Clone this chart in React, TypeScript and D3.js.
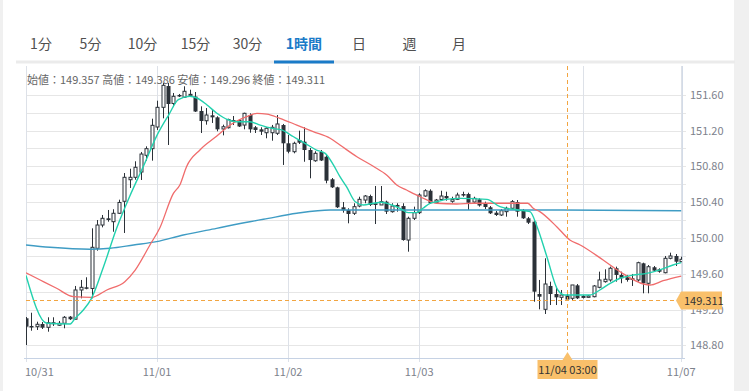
import React from 'react'
import * as d3 from 'd3'

// hourly candles, 10/31 00:00 .. 11/07 00:00 (weekend gap after 11/04 05:00)
const opens = [
  149.102, 149.016, 149.008, 149.038, 149.001, 149.046, 149.024, 149.046, 149.12, 149.091,
  149.418, 149.448, 149.435, 149.884, 150.144, 150.219, 150.181, 150.275, 150.409, 150.65,
  150.677, 150.736, 150.923, 150.997, 151.239, 151.459, 151.697, 151.502, 151.597, 151.571,
  151.593, 151.58, 151.418, 151.309, 151.37, 151.347, 151.217, 151.231, 151.317, 151.317,
  151.261, 151.373, 151.236, 151.213, 151.175, 151.175, 151.169, 151.261, 151.057, 150.963,
  151.094, 151.075, 150.982, 150.862, 150.96, 150.907, 150.655, 150.565, 150.342, 150.312,
  150.275, 150.356, 150.423, 150.468, 150.387, 150.368, 150.405, 150.293, 150.368, 150.356,
  149.976, 150.219, 150.282, 150.468, 150.527, 150.393, 150.429, 150.468, 150.409, 150.431,
  150.49, 150.49, 150.401, 150.431, 150.387, 150.342, 150.282, 150.256, 150.293, 150.331,
  150.401, 150.304, 150.219, 150.181, 149.373, 149.202, 149.463, 149.373, 149.336, 149.357,
  149.325, 149.47, 149.34, 149.336, 149.343, 149.448, 149.511, 149.53, 149.661, 149.586,
  149.56, 149.549, 149.53, 149.716, 149.493, 149.672, 149.649, 149.611, 149.772, 149.798,
  149.734
]
const highs = [
  149.116, 149.164, 149.064, 149.06, 149.113, 149.113, 149.072, 149.127, 149.127, 149.463,
  149.53, 149.56, 150.107, 150.2, 150.256, 150.312, 150.32, 150.427, 150.725, 150.773,
  150.856, 150.96, 151.023, 151.332, 151.533, 151.731, 151.731, 151.619, 151.608, 151.694,
  151.656, 151.63, 151.47, 151.451, 151.432, 151.359, 151.265, 151.332, 151.362, 151.325,
  151.399, 151.392, 151.25, 151.236, 151.236, 151.262, 151.373, 151.273, 151.15, 151.075,
  151.198, 151.236, 151.004, 150.968, 150.982, 150.926, 150.669, 150.572, 150.401, 150.331,
  150.387, 150.46, 150.479, 150.483, 150.58, 150.58, 150.416, 150.387, 150.387, 150.387,
  150.237, 150.349, 150.498, 150.543, 150.543, 150.435, 150.527, 150.516, 150.46, 150.505,
  150.516, 150.505, 150.46, 150.442, 150.405, 150.356, 150.301, 150.323, 150.349, 150.423,
  150.423, 150.323, 150.234, 150.2, 149.53, 149.772, 149.511, 149.455, 149.418, 149.386,
  149.474, 149.485, 149.362, 149.362, 149.474, 149.623, 149.649, 149.679, 149.679, 149.623,
  149.586, 149.597, 149.734, 149.723, 149.697, 149.686, 149.66, 149.798, 149.835, 149.82,
  149.79
]
const lows = [
  148.803, 148.963, 148.971, 148.982, 148.952, 149.016, 149.016, 148.99, 149.083, 149.091,
  149.325, 149.426, 149.325, 149.857, 150.118, 150.181, 150.069, 150.267, 150.055, 150.558,
  150.65, 150.647, 150.863, 150.863, 151.206, 151.336, 151.038, 151.462, 151.574, 151.563,
  151.591, 151.407, 151.172, 151.265, 151.284, 151.191, 151.146, 151.222, 151.261, 151.239,
  151.213, 151.175, 151.172, 151.15, 151.113, 151.086, 151.15, 150.815, 150.945, 150.945,
  151.049, 150.851, 150.666, 150.851, 150.859, 150.61, 150.558, 150.334, 150.282, 150.163,
  150.256, 150.342, 150.387, 150.356, 150.155, 150.368, 150.267, 150.282, 150.293, 149.969,
  149.846, 150.2, 150.267, 150.46, 150.379, 150.379, 150.416, 150.416, 150.393, 150.423,
  150.46, 150.312, 150.393, 150.349, 150.323, 150.267, 150.245, 150.245, 150.237, 150.32,
  150.237, 150.212, 150.155, 149.287, 149.202, 149.15, 149.25, 149.25, 149.25, 149.296,
  149.306, 149.317, 149.323, 149.334, 149.336, 149.437, 149.5, 149.511, 149.511, 149.493,
  149.511, 149.463, 149.511, 149.381, 149.381, 149.619, 149.611, 149.604, 149.761, 149.686,
  149.734
]
const closes = [
  149.008, 149.001, 149.035, 148.997, 149.052, 149.052, 149.046, 149.113, 149.091, 149.418,
  149.448, 149.432, 149.895, 150.144, 150.219, 150.2, 150.275, 150.396, 150.677, 150.677,
  150.789, 150.937, 150.997, 151.258, 151.459, 151.705, 151.496, 151.582, 151.58, 151.638,
  151.604, 151.412, 151.306, 151.373, 151.347, 151.213, 151.242, 151.323, 151.295, 151.245,
  151.392, 151.213, 151.206, 151.187, 151.225, 151.236, 151.273, 151.057, 150.963, 151.057,
  151.064, 150.982, 150.87, 150.945, 150.865, 150.639, 150.565, 150.342, 150.308, 150.267,
  150.349, 150.431, 150.468, 150.368, 150.368, 150.405, 150.293, 150.356, 150.349, 149.976,
  150.219, 150.282, 150.479, 150.527, 150.387, 150.423, 150.468, 150.442, 150.431, 150.479,
  150.476, 150.393, 150.442, 150.362, 150.345, 150.275, 150.256, 150.304, 150.331, 150.405,
  150.293, 150.219, 150.17, 149.399, 149.343, 149.485, 149.373, 149.336, 149.362, 149.311,
  149.474, 149.325, 149.346, 149.351, 149.463, 149.53, 149.538, 149.661, 149.586, 149.549,
  149.53, 149.53, 149.723, 149.493, 149.678, 149.634, 149.622, 149.772, 149.798, 149.734,
  149.761
]

// moving averages as [candle index, price]
const maShort: [number, number][] = [
  [0, 149.58], [3.8, 149.046], [8.1, 149.038], [9, 149.102], [10.5, 149.195], [12, 149.325],
  [14.2, 149.678], [16.6, 150.107], [19, 150.465], [21.5, 150.8], [23.9, 151.135],
  [26.1, 151.37], [27.9, 151.544], [30, 151.582], [31.3, 151.563], [33.1, 151.488],
  [34.9, 151.396], [37, 151.32], [38.6, 151.298], [41, 151.298], [42.9, 151.26],
  [45, 151.225], [46.8, 151.206], [49, 151.13], [51.1, 151.057], [53.2, 150.982],
  [54.8, 150.945], [56.3, 150.815], [57.5, 150.684], [58.7, 150.572], [60.3, 150.404],
  [61.8, 150.368], [63.6, 150.387], [65.1, 150.398], [67, 150.368], [68.5, 150.331],
  [70, 150.282], [71.5, 150.282], [72.7, 150.331], [74, 150.387], [75.2, 150.404],
  [77, 150.431], [79.5, 150.442], [84.4, 150.431], [86.8, 150.349], [90.1, 150.312],
  [92.3, 150.293], [93.6, 150.125], [95.4, 149.79], [97.4, 149.418], [98.7, 149.362],
  [103.3, 149.362], [105.1, 149.418], [107, 149.493], [108.8, 149.549], [111.2, 149.585],
  [113.7, 149.604], [116.1, 149.642], [118.5, 149.697], [120, 149.723]
]
const maMid: [number, number][] = [
  [0, 149.611], [2.6, 149.53], [5.6, 149.437], [8.7, 149.343], [12, 149.336],
  [14.8, 149.418], [18.1, 149.511], [20, 149.641], [22.7, 149.921], [24.5, 150.111],
  [27, 150.498], [28.2, 150.594], [29.4, 150.796], [31.9, 150.985], [34.9, 151.135],
  [37.4, 151.261], [40.4, 151.354], [42.3, 151.392], [44.1, 151.384], [46.5, 151.336],
  [49.6, 151.261], [52.6, 151.187], [55.7, 151.113], [57.5, 151.038], [60.6, 150.907],
  [63.6, 150.8], [66.1, 150.7], [67.9, 150.591], [69.7, 150.535], [72.2, 150.46],
  [75.2, 150.387], [78.9, 150.379], [81.9, 150.387], [91.9, 150.387], [92.9, 150.331],
  [94.1, 150.293], [97.2, 150.125], [99.6, 149.977], [101.5, 149.921], [105.7, 149.753],
  [108.8, 149.622], [113.1, 149.485], [114.3, 149.474], [116.7, 149.522], [120, 149.574]
]
const maLong: [number, number][] = [
  [0, 149.921], [4.4, 149.895], [11.7, 149.873], [15.4, 149.884], [19.7, 149.921],
  [23.9, 149.958], [28.8, 150.032], [34.9, 150.107], [41, 150.181], [43.5, 150.208],
  [49.6, 150.275], [55.7, 150.312], [61.8, 150.312], [83.2, 150.312], [97.8, 150.312],
  [120, 150.304]
]

// 11/06 keeps its grid line, its label sits under the time tooltip
const dayLabels = ['10/31', '11/01', '11/02', '11/03', '', '11/07']
const dayIndex = [0, 24, 48, 72, 102, 120]
const priceTicks = [148.8, 149.2, 149.6, 150.0, 150.4, 150.8, 151.2, 151.6]
const gridPrices = [148.8, 149.0, 149.2, 149.4, 149.6, 149.8, 150.0, 150.2, 150.4, 150.6, 150.8, 151.0, 151.2, 151.4, 151.6]

const tabs = ['1分', '5分', '10分', '15分', '30分', '1時間', '日', '週', '月']
const activeTab = '1時間'
const cursorIndex = 99
const cursorTime = '11/04 03:00'

const W = 749
const H = 391
const plot = { left: 26, right: 682, top: 66, bottom: 358 }
const tabCenters = [41, 90.5, 142.5, 195.5, 247.5, 304, 359, 409.5, 459]

const DARK = '#2b3138'
const ORANGE = '#f2a541'
const FONT = '"Noto Sans CJK JP", "Noto Sans", sans-serif'

export default function App() {
  const x = d3.scaleLinear().domain([0, 120]).range([26, 681.2])
  const y = d3.scaleLinear().domain([148.8, 151.6]).range([345.3, 94.7])

  const line = d3
    .line<[number, number]>()
    .x(d => x(d[0]))
    .y(d => y(d[1]))
    .curve(d3.curveMonotoneX)

  const cx = Math.round(x(cursorIndex)) + 0.5
  const cy = Math.round(y(closes[cursorIndex])) + 0.5
  const header =
    '始値：' + opens[cursorIndex].toFixed(3) +
    ' 高値：' + highs[cursorIndex].toFixed(3) +
    ' 安値：' + lows[cursorIndex].toFixed(3) +
    ' 終値：' + closes[cursorIndex].toFixed(3)

  const activeI = tabs.indexOf(activeTab)

  return (
    <svg
      width={W}
      height={H}
      style={{ position: 'absolute', left: 0, top: 0, fontFamily: FONT }}
    >
      <rect width={W} height={H} fill="#f0f0f0" />
      <rect x={3} y={0} width={731} height={H} fill="#fff" />

      {/* tabs */}
      {tabs.map((t, i) => (
        <text
          key={t}
          x={tabCenters[i]}
          y={49}
          textAnchor="middle"
          fontSize={14}
          fontWeight={i === activeI ? 'bold' : 'normal'}
          fill={i === activeI ? '#1a7bc8' : '#505050'}
        >
          {t}
        </text>
      ))}
      <rect x={16} y={60.5} width={719} height={3} fill="#ebebeb" />
      <rect x={tabCenters[activeI] - 30} y={60.5} width={60} height={3} fill="#1a7bc8" />

      <defs>
        <clipPath id="plotClip">
          <rect x={plot.left} y={plot.top} width={plot.right - plot.left} height={plot.bottom - plot.top} />
        </clipPath>
      </defs>

      {/* grid */}
      {gridPrices.map(p => (
        <line
          key={p}
          x1={plot.left}
          x2={plot.right + 4}
          y1={Math.round(y(p)) + 0.5}
          y2={Math.round(y(p)) + 0.5}
          stroke="#e6e6e6"
        />
      ))}
      {dayIndex.map(i => (
        <line
          key={i}
          x1={Math.round(x(i)) + 0.5}
          x2={Math.round(x(i)) + 0.5}
          y1={plot.top}
          y2={plot.bottom + 4}
          stroke="#dde1e8"
        />
      ))}
      <line x1={plot.right + 0.5} x2={plot.right + 0.5} y1={plot.top} y2={plot.bottom} stroke="#d3dbe7" />
      <line x1={plot.left - 2} x2={plot.right + 3} y1={plot.bottom + 0.5} y2={plot.bottom + 0.5} stroke="#c6d2e4" />

      {/* candles */}
      <g clipPath="url(#plotClip)">
        {opens.map((o, i) => {
          const c = closes[i]
          const xi = Math.round(x(i)) + 0.5
          const up = c >= o
          const top = y(Math.max(o, c))
          const bot = y(Math.min(o, c))
          return (
            <g key={i}>
              <line x1={xi} x2={xi} y1={y(highs[i])} y2={y(lows[i])} stroke={DARK} />
              {up ? (
                <rect
                  x={xi - 1.5}
                  y={top}
                  width={3}
                  height={Math.max(1, bot - top)}
                  fill="#fff"
                  stroke={DARK}
                />
              ) : (
                <rect
                  x={xi - 2}
                  y={top}
                  width={4}
                  height={Math.max(1.5, bot - top)}
                  fill={DARK}
                />
              )}
            </g>
          )
        })}
        <path d={line(maLong) || ''} fill="none" stroke="#3f9cc4" strokeWidth={1.4} />
        <path d={line(maMid) || ''} fill="none" stroke="#f06c6c" strokeWidth={1.3} />
        <path d={line(maShort) || ''} fill="none" stroke="#22d1ae" strokeWidth={1.4} />
      </g>

      {/* crosshair */}
      <line x1={cx} x2={cx} y1={plot.top} y2={plot.bottom} stroke={ORANGE} strokeDasharray="4,3" />
      <line x1={plot.left} x2={676} y1={cy} y2={cy} stroke={ORANGE} strokeDasharray="4,3" />

      {/* header */}
      <text x={27} y={84} fontSize={11} fill="#666">
        {header}
      </text>

      {/* y axis */}
      {priceTicks.map(p => (
        <text key={p} x={690} y={y(p) + 4} fontSize={11} fill="#7d828c">
          {p.toFixed(2)}
        </text>
      ))}
      <path
        d={`M676,${cy} L681,${cy - 9} L722,${cy - 9} L722,${cy + 9} L681,${cy + 9} Z`}
        fill="#f9c06b"
      />
      <text x={684} y={cy + 4} fontSize={11} fill="#333">
        {closes[cursorIndex].toFixed(3)}
      </text>

      {/* x axis */}
      {dayIndex.map((i, k) =>
        dayLabels[k] ? (
          <text
            key={i}
            x={k === 0 ? plot.left - 1 : x(i)}
            y={376}
            fontSize={11}
            textAnchor={k === 0 ? 'start' : 'middle'}
            fill="#7d828c"
          >
            {dayLabels[k]}
          </text>
        ) : null
      )}
      <path
        d={`M${cx - 30},360 L${cx - 5},360 L${cx},352 L${cx + 5},360 L${cx + 30},360 L${cx + 30},379 L${cx - 30},379 Z`}
        fill="#f9c06b"
      />
      <text x={cx} y={374} fontSize={11} textAnchor="middle" fill="#333">
        {cursorTime}
      </text>
    </svg>
  )
}
